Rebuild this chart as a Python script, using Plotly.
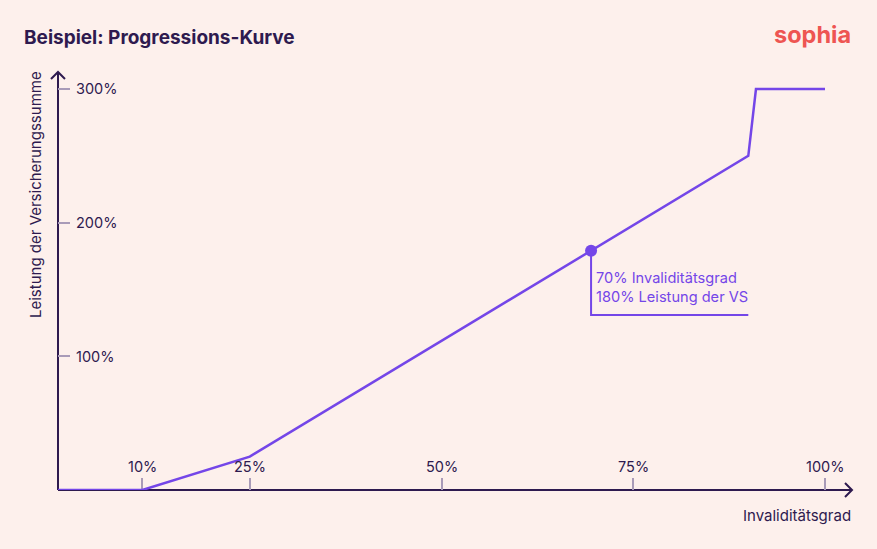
import plotly.graph_objects as go

# ---- data ----
invaliditaet = [0, 11, 25, 90, 91, 100]
leistung = [0, 0, 25, 250, 300, 300]
x_tick_vals = [11, 25, 50, 75, 100]
x_tick_text = ["10%", "25%", "50%", "75%", "100%"]
y_tick_vals = [100, 200, 300]
y_tick_text = ["100%", "200%", "300%"]
highlight_x = [69.5]
highlight_y = [179]
highlight_lines = ["70% Invaliditätsgrad", "180% Leistung der VS"]
callout_end_x = 90
callout_y = 131

BG = "#fdf0ec"
DARK = "#2e1a4f"
PURPLE = "#7446e8"
TICK = "#a99bb8"
FONT = "Inter"

W, H = 877, 549
L, R, T, B = 58, 25, 72, 59
pw, ph = W - L - R, H - T - B
XMAX = pw / 7.67
YMAX = ph / 1.3367


def px(xpix):
    return (xpix - L) / pw


def py(ypix):
    return (H - B - ypix) / ph


fig = go.Figure()

fig.add_trace(go.Scatter(x=invaliditaet, y=leistung, mode="lines",
                         line=dict(color=PURPLE, width=2.5), cliponaxis=False,
                         hoverinfo="skip"))
fig.add_trace(go.Scatter(x=[highlight_x[0], highlight_x[0], callout_end_x],
                         y=[highlight_y[0], callout_y, callout_y], mode="lines",
                         line=dict(color=PURPLE, width=2), cliponaxis=False,
                         hoverinfo="skip"))
fig.add_trace(go.Scatter(x=highlight_x, y=highlight_y, mode="markers",
                         marker=dict(color=PURPLE, size=12), cliponaxis=False,
                         hoverinfo="skip"))

anns = []
for v, t in zip(x_tick_vals, x_tick_text):
    anns.append(dict(x=v, y=0, xref="x", yref="y", text=t, showarrow=False,
                     yshift=24, xanchor="center", yanchor="middle",
                     font=dict(family=FONT, size=14.5, color=DARK)))
for v, t in zip(y_tick_vals, y_tick_text):
    anns.append(dict(x=0, y=v, xref="x", yref="y", text=t, showarrow=False,
                     xshift=16, xanchor="left", yanchor="middle",
                     font=dict(family=FONT, size=14.5, color=DARK)))
anns.append(dict(x=highlight_x[0], y=callout_y, xref="x", yref="y",
                 text="<br>".join(highlight_lines), showarrow=False,
                 xshift=3, yshift=7, xanchor="left", yanchor="bottom", align="left",
                 font=dict(family=FONT, size=14.6, color=PURPLE)))
anns.append(dict(x=px(35), y=py(195), xref="paper", yref="paper",
                 text="Leistung der Versicherungssumme", textangle=-90,
                 showarrow=False, xanchor="center", yanchor="middle",
                 font=dict(family=FONT, size=15, color=DARK)))
anns.append(dict(x=px(853), y=py(515), xref="paper", yref="paper",
                 text="Invaliditätsgrad", showarrow=False,
                 xanchor="right", yanchor="middle",
                 font=dict(family=FONT, size=15, color=DARK)))
anns.append(dict(x=px(853), y=py(35), xref="paper", yref="paper",
                 text="<b>sophia</b>", showarrow=False,
                 xanchor="right", yanchor="middle",
                 font=dict(family=FONT, size=23.5, color="#ee5552")))

shapes = [
    # axis lines drawn below the traces
    dict(type="line", xref="paper", yref="paper", x0=0, x1=1, y0=0, y1=0,
         layer="below", line=dict(color=DARK, width=2)),
    dict(type="line", xref="paper", yref="paper", x0=0, x1=0, y0=0, y1=1,
         layer="below", line=dict(color=DARK, width=2)),
    # arrow heads
    dict(type="path", xref="paper", yref="paper", xsizemode="pixel", ysizemode="pixel",
         xanchor=1, yanchor=0, path="M -7 7 L 0 0 L -7 -7",
         line=dict(color=DARK, width=2)),
    dict(type="path", xref="paper", yref="paper", xsizemode="pixel", ysizemode="pixel",
         xanchor=0, yanchor=1, path="M -7 -7 L 0 0 L 7 -7",
         line=dict(color=DARK, width=2)),
]

fig.update_layout(
    width=W, height=H,
    margin=dict(l=L, r=R, t=T, b=B),
    paper_bgcolor=BG, plot_bgcolor=BG,
    showlegend=False,
    title=dict(text="<b>Beispiel: Progressions-Kurve</b>", x=24 / W, xanchor="left",
               y=1 - 37 / H, yanchor="middle",
               font=dict(family=FONT, size=19, color=DARK)),
    annotations=anns, shapes=shapes,
    xaxis=dict(range=[0, XMAX], showgrid=False, zeroline=False, showline=False,
               ticks="inside", ticklen=12,
               tickcolor=TICK, tickwidth=2, tickvals=x_tick_vals,
               showticklabels=False, fixedrange=True, layer="below traces"),
    yaxis=dict(range=[0, YMAX], showgrid=False, zeroline=False, showline=False,
               ticks="inside", ticklen=12,
               tickcolor=TICK, tickwidth=2, tickvals=y_tick_vals,
               showticklabels=False, fixedrange=True, layer="below traces"),
)

fig.write_html("out.html", config={"displayModeBar": False},
               post_script="document.body.style.margin='0';document.body.style.background='#fdf0ec';")
